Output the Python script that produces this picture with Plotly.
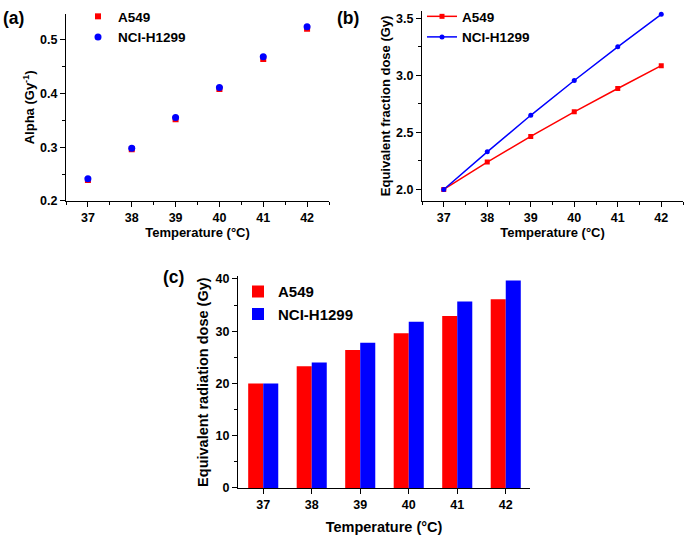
import plotly.graph_objects as go

temps = [37, 38, 39, 40, 41, 42]
alpha_a549 = [0.239, 0.296, 0.352, 0.408, 0.464, 0.520]
alpha_h1299 = [0.241, 0.298, 0.355, 0.411, 0.468, 0.524]
efd_a549 = [2.00, 2.24, 2.465, 2.68, 2.885, 3.085]
efd_h1299 = [2.00, 2.33, 2.65, 2.955, 3.25, 3.535]
erd_a549 = [20.0, 23.3, 26.4, 29.6, 32.9, 36.1]
erd_h1299 = [20.0, 24.0, 27.8, 31.8, 35.7, 39.7]

RED = "#ff0000"
BLUE = "#0000ff"
FONT = "Liberation Sans"

fig = go.Figure()
# (a)
fig.add_trace(go.Scatter(x=temps, y=alpha_a549, mode="markers", name="<b>A549</b>",
                         marker=dict(symbol="square", size=6, color=RED),
                         xaxis="x", yaxis="y", legend="legend"))
fig.add_trace(go.Scatter(x=temps, y=alpha_h1299, mode="markers", name="<b>NCI-H1299</b>",
                         marker=dict(symbol="circle", size=7, color=BLUE),
                         xaxis="x", yaxis="y", legend="legend"))
# (b)
fig.add_trace(go.Scatter(x=temps, y=efd_a549, mode="lines+markers", name="<b>A549</b>",
                         marker=dict(symbol="square", size=5, color=RED),
                         line=dict(color=RED, width=1.5),
                         xaxis="x2", yaxis="y2", legend="legend2"))
fig.add_trace(go.Scatter(x=temps, y=efd_h1299, mode="lines+markers", name="<b>NCI-H1299</b>",
                         marker=dict(symbol="circle", size=5, color=BLUE),
                         line=dict(color=BLUE, width=1.5),
                         xaxis="x2", yaxis="y2", legend="legend2"))
# (c)
fig.add_trace(go.Bar(x=temps, y=erd_a549, name="<b>A549</b>", marker=dict(color=RED, line=dict(width=0)),
                     xaxis="x3", yaxis="y3", legend="legend3"))
fig.add_trace(go.Bar(x=temps, y=erd_h1299, name="<b>NCI-H1299</b>", marker=dict(color=BLUE, line=dict(width=0)),
                     xaxis="x3", yaxis="y3", legend="legend3"))

W, H = 685, 539
def dx(a, b):
    return [a / W, b / W]
def dy(top, bottom):
    return [1 - bottom / H, 1 - top / H]

TICK_SIZE = 12.5

def axis_common(title_size):
    return dict(showline=True, linecolor="black", linewidth=1, ticks="outside",
                ticklen=5, tickwidth=1, tickcolor="black", showgrid=False, zeroline=False,
                tickfont=dict(family=FONT, size=TICK_SIZE, color="black"),
                title_font=dict(family=FONT, size=title_size, color="black"))

def xa(domain, anchor, rng, minor=True, title_size=13, standoff=4):
    d = dict(axis_common(title_size), domain=domain, anchor=anchor, range=rng, tickmode="array",
             tickvals=temps, ticktext=[f"<b>{t}</b>" for t in temps],
             title=dict(text="<b>Temperature (°C)</b>", standoff=standoff))
    if minor:
        d["minor"] = dict(dtick=0.5, tick0=36.5, ticks="outside", ticklen=3, tickcolor="black", showgrid=False)
    return d

def ya(domain, anchor, rng, vals, labels, title, minor_dtick, minor_tick0, standoff=2, title_size=13):
    return dict(axis_common(title_size), domain=domain, anchor=anchor, range=rng, tickmode="array",
                tickvals=vals, ticktext=[f"<b>{l}</b>" for l in labels],
                title=dict(text=title, standoff=standoff),
                minor=dict(dtick=minor_dtick, tick0=minor_tick0, ticks="outside", ticklen=3,
                           tickcolor="black", showgrid=False))

leg_font = dict(family=FONT, size=13.5, color="black")

fig.update_layout(
    width=W, height=H, margin=dict(l=0, r=0, t=0, b=0),
    paper_bgcolor="white", plot_bgcolor="white",
    barmode="group", bargap=0.38, bargroupgap=0,
    xaxis=xa(dx(66, 329), "y", [36.5, 42.5]),
    yaxis=ya(dy(10, 201), "x", [0.2, 0.548], [0.2, 0.3, 0.4, 0.5], ["0.2", "0.3", "0.4", "0.5"],
             "<b>Alpha (Gy<sup>-1</sup>)</b>", 0.05, 0.2),
    xaxis2=xa(dx(422, 683), "y2", [36.5, 42.5]),
    yaxis2=ya(dy(7, 201), "x2", [1.9, 3.565], [2.0, 2.5, 3.0, 3.5], ["2.0", "2.5", "3.0", "3.5"],
              "<b>Equivalent fraction dose (Gy)</b>", 0.25, 2.0),
    xaxis3=xa(dx(238, 530), "y3", [36.48, 42.5], minor=False, title_size=14.5, standoff=10),
    yaxis3=ya(dy(278, 494), "x3", [0, 40.5], [0, 10, 20, 30, 40], ["0", "10", "20", "30", "40"],
              "<b>Equivalent radiation dose (Gy)</b>", 5, 0, title_size=14.5, standoff=3),
    legend=dict(x=78 / W, y=1 + 3 / H, xanchor="left", yanchor="top", bgcolor="rgba(0,0,0,0)",
                font=leg_font, tracegroupgap=0, itemwidth=30, traceorder="normal"),
    legend2=dict(x=422 / W, y=1 + 3 / H, xanchor="left", yanchor="top", bgcolor="rgba(0,0,0,0)",
                 font=leg_font, tracegroupgap=0, itemwidth=30, traceorder="normal"),
    legend3=dict(x=238 / W, y=1 - 277 / H, xanchor="left", yanchor="top", bgcolor="rgba(0,0,0,0)",
                 font=dict(family=FONT, size=15, color="black"), tracegroupgap=0, itemwidth=30,
                 traceorder="normal"),
    annotations=[
        dict(text="<b>(a)</b>", x=1 / W, y=1 - 2 / H, xref="paper", yref="paper", xanchor="left",
             yanchor="top", showarrow=False, font=dict(family=FONT, size=17.5, color="black")),
        dict(text="<b>(b)</b>", x=335 / W, y=1 - 2 / H, xref="paper", yref="paper", xanchor="left",
             yanchor="top", showarrow=False, font=dict(family=FONT, size=17.5, color="black")),
        dict(text="<b>(c)</b>", x=161 / W, y=1 - 266 / H, xref="paper", yref="paper", xanchor="left",
             yanchor="top", showarrow=False, font=dict(family=FONT, size=17.5, color="black")),
    ],
)

fig.write_html("out.html", config={"displayModeBar": False},
               post_script="document.body.style.margin='0';document.body.style.padding='0';")
